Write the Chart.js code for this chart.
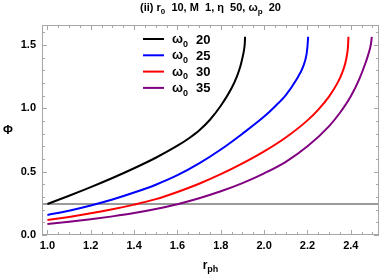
<!DOCTYPE html>
<html>
<head>
<meta charset="utf-8">
<script src="https://cdn.jsdelivr.net/npm/chart.js@4.4.1/dist/chart.umd.min.js"></script>
<style>
  html, body { margin: 0; padding: 0; background: #fff; }
  #wrap { width: 382px; height: 280px; }
</style>
</head>
<body>
<div id="wrap"><canvas id="phiChart" width="382" height="280"></canvas></div>
<script>
// Φ versus r_ph for four values of ω0
const r20   = [1.0, 1.1, 1.2, 1.3, 1.4, 1.5, 1.6, 1.65, 1.7, 1.75, 1.8, 1.85, 1.875, 1.89, 1.9, 1.907, 1.911, 1.912];
const phi20 = [0.245, 0.31, 0.378, 0.45, 0.527, 0.61, 0.705, 0.76, 0.825, 0.91, 1.02, 1.16, 1.255, 1.33, 1.40, 1.46, 1.52, 1.565];

const r25   = [1.0, 1.1, 1.2, 1.3, 1.4, 1.5, 1.6, 1.7, 1.8, 1.9, 2.0, 2.05, 2.1, 2.15, 2.18, 2.195, 2.2, 2.203];
const phi25 = [0.158, 0.192, 0.233, 0.28, 0.335, 0.397, 0.472, 0.565, 0.675, 0.8, 0.935, 1.015, 1.105, 1.23, 1.33, 1.42, 1.49, 1.565];

const r30   = [1.0, 1.1, 1.2, 1.3, 1.4, 1.5, 1.6, 1.7, 1.8, 1.9, 2.0, 2.1, 2.2, 2.25, 2.3, 2.34, 2.36, 2.375, 2.383, 2.387, 2.389];
const phi30 = [0.118, 0.143, 0.171, 0.203, 0.24, 0.283, 0.34, 0.405, 0.48, 0.565, 0.66, 0.77, 0.905, 0.99, 1.095, 1.205, 1.28, 1.36, 1.43, 1.49, 1.565];

const r35   = [1.0, 1.1, 1.2, 1.3, 1.4, 1.5, 1.6, 1.7, 1.8, 1.9, 2.0, 2.1, 2.2, 2.3, 2.35, 2.4, 2.44, 2.47, 2.485, 2.493, 2.497];
const phi35 = [0.087, 0.104, 0.124, 0.147, 0.173, 0.205, 0.243, 0.29, 0.345, 0.41, 0.487, 0.578, 0.70, 0.86, 0.965, 1.095, 1.235, 1.37, 1.45, 1.51, 1.565];

const omegaValues = ['20', '25', '30', '35'];
const refLevel = 0.245;          // horizontal grey line

const xTicks = [1.0, 1.2, 1.4, 1.6, 1.8, 2.0, 2.2, 2.4];
const yTicks = [0.0, 0.5, 1.0, 1.5];
const xRange = [0.975, 2.53];
const yRange = [0, 1.658];

const seriesColors = ['#000000', '#0000ff', '#ff0000', '#800080'];
const FONT = '"Liberation Sans", Arial, sans-serif';
const FRAME = '#a6a6a6';

const toPts = (xs, ys) => xs.map((x, i) => ({ x, y: ys[i] }));
const curves = [toPts(r20, phi20), toPts(r25, phi25), toPts(r30, phi30), toPts(r35, phi35)];

// draw a run of text pieces, some of them subscripts
function drawRich(ctx, parts, x, y, size, align) {
  const subSize = Math.round(size * 0.72);
  let total = 0;
  parts.forEach(p => {
    ctx.font = `bold ${p.sub ? subSize : size}px ${FONT}`;
    p.w = ctx.measureText(p.t).width;
    total += p.w;
  });
  let cx = align === 'center' ? x - total / 2 : x;
  ctx.textBaseline = 'alphabetic';
  ctx.textAlign = 'left';
  parts.forEach(p => {
    ctx.font = `bold ${p.sub ? subSize : size}px ${FONT}`;
    ctx.fillText(p.t, cx, p.sub ? y + size * 0.28 : y);
    cx += p.w;
  });
}

const decorPlugin = {
  id: 'decor',
  afterDatasetsDraw(chart) {
    const { ctx, chartArea: a, scales: { x, y } } = chart;
    ctx.save();

    // frame
    ctx.strokeStyle = FRAME;
    ctx.lineWidth = 1;
    ctx.strokeRect(a.left + 0.5, a.top + 0.5, a.right - a.left - 1, a.bottom - a.top - 1);

    // inward ticks on all four sides
    ctx.beginPath();
    for (let v = 1.0; v <= xRange[1] + 1e-9; v += 0.05) {
      const px = Math.round(x.getPixelForValue(v)) + 0.5;
      const major = Math.abs(v / 0.2 - Math.round(v / 0.2)) < 1e-6;
      const len = major ? 5 : 3;
      ctx.moveTo(px, a.bottom); ctx.lineTo(px, a.bottom - len);
      ctx.moveTo(px, a.top); ctx.lineTo(px, a.top + len);
    }
    for (let v = 0; v <= yRange[1] + 1e-9; v += 0.1) {
      const py = Math.round(y.getPixelForValue(v)) + 0.5;
      const major = Math.abs(v / 0.5 - Math.round(v / 0.5)) < 1e-6;
      const len = major ? 5 : 3;
      ctx.moveTo(a.left, py); ctx.lineTo(a.left + len, py);
      ctx.moveTo(a.right, py); ctx.lineTo(a.right - len, py);
    }
    ctx.stroke();

    // legend inside the plot
    ctx.fillStyle = '#000';
    omegaValues.forEach((w, i) => {
      const ly = a.top + 14 + i * 16.3;
      ctx.strokeStyle = seriesColors[i];
      ctx.lineWidth = 2;
      ctx.beginPath();
      ctx.moveTo(a.left + 101, ly);
      ctx.lineTo(a.left + 122, ly);
      ctx.stroke();
      drawRich(ctx, [{ t: 'ω' }, { t: '0', sub: true }], a.left + 130, ly + 4, 13);
      ctx.font = `bold 13px ${FONT}`;
      ctx.fillText(w, a.left + 154, ly + 4.5);
    });

    // title
    const cx = (a.left + a.right) / 2;
    drawRich(ctx, [
      { t: '(ii) r' }, { t: '0', sub: true }, { t: '  10, M  1, η  50, ω' },
      { t: 'p', sub: true }, { t: '  20' }
    ], cx, 11, 11, 'center');

    // axis titles
    drawRich(ctx, [{ t: 'r' }, { t: 'ph', sub: true }], cx, 269, 12, 'center');
    drawRich(ctx, [{ t: 'Φ' }], 8, (a.top + a.bottom) / 2 + 4, 12, 'center');

    ctx.restore();
  }
};

const datasets = curves.map((pts, i) => ({
  label: 'ω0 = ' + omegaValues[i],
  data: pts,
  borderColor: seriesColors[i],
  borderWidth: 2,
  pointRadius: 0,
  cubicInterpolationMode: 'monotone',
  fill: false,
  order: i,
}));
datasets.push({
  label: 'reference',
  data: [{ x: xRange[0], y: refLevel }, { x: xRange[1], y: refLevel }],
  borderColor: '#9a9a9a',
  borderWidth: 2,
  pointRadius: 0,
  fill: false,
  order: 10,
});

new Chart(document.getElementById('phiChart'), {
  type: 'line',
  data: { datasets },
  plugins: [decorPlugin],
  options: {
    responsive: false,
    animation: false,
    devicePixelRatio: 1,
    layout: { padding: { left: 0, right: 3, top: 25, bottom: 0 } },
    plugins: { legend: { display: false }, tooltip: { enabled: false }, title: { display: false } },
    scales: {
      x: {
        type: 'linear',
        min: xRange[0],
        max: xRange[1],
        afterBuildTicks: s => { s.ticks = xTicks.map(v => ({ value: v })); },
        afterFit: s => { s.height = 45; },
        ticks: {
          autoSkip: false,
          maxRotation: 0,
          padding: 4,
          color: '#000',
          font: { family: FONT, size: 11, weight: 'bold' },
          callback: v => v.toFixed(1),
        },
        grid: { display: false, drawTicks: false },
        border: { display: false },
      },
      y: {
        type: 'linear',
        min: yRange[0],
        max: yRange[1],
        afterBuildTicks: s => { s.ticks = yTicks.map(v => ({ value: v })); },
        afterFit: s => { s.width = 42; },
        ticks: {
          autoSkip: false,
          padding: 6,
          color: '#000',
          font: { family: FONT, size: 11, weight: 'bold' },
          callback: v => v.toFixed(1),
        },
        grid: { display: false, drawTicks: false },
        border: { display: false },
      },
    },
  },
});
</script>
</body>
</html>
